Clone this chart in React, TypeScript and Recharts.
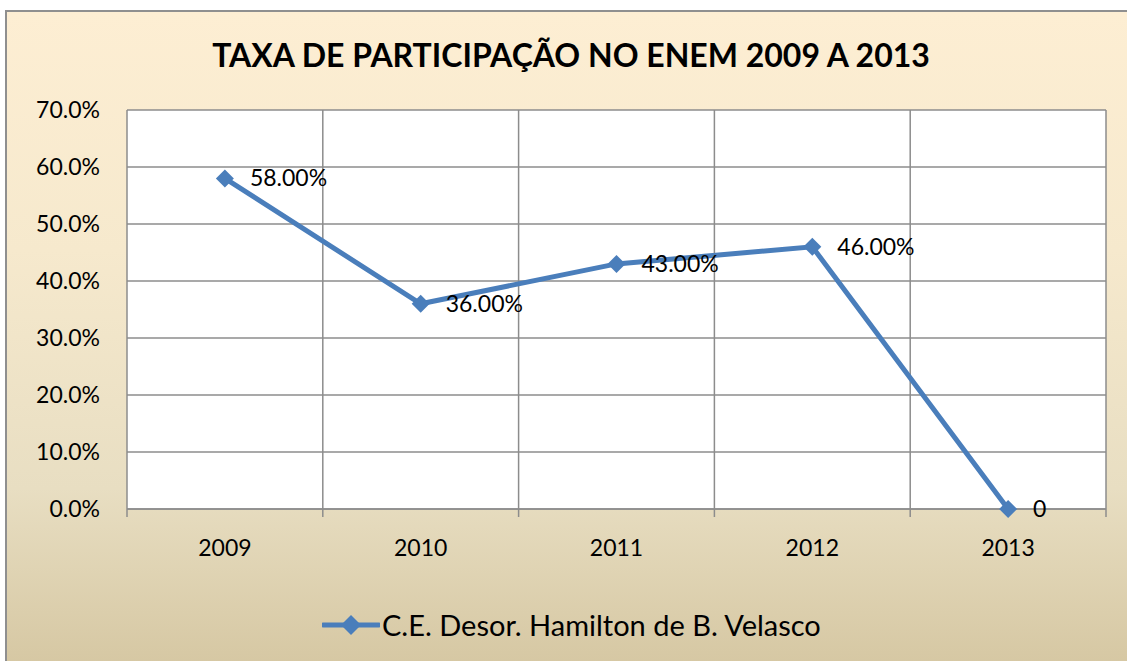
import React from 'react';
import { LineChart, Line, XAxis, YAxis, CartesianGrid, ReferenceLine, LabelList, Legend } from 'recharts';

const title = 'TAXA DE PARTICIPAÇÃO NO ENEM 2009 A 2013';
const seriesName = 'C.E. Desor. Hamilton de B. Velasco';
const years = ['2009', '2010', '2011', '2012', '2013'];
const rates = [0.58, 0.36, 0.43, 0.46, 0];
const yTicks = [0, 0.1, 0.2, 0.3, 0.4, 0.5, 0.6, 0.7];

const data = years.map((year, i) => ({ pos: i + 0.5, year, rate: rates[i] }));
const boundaries = years.map((_, i) => i + 1);
const xTicks = [0, ...years.flatMap((_, i) => [i + 0.5, i + 1])];

const FONT = 'Lato, "Open Sans", sans-serif';
const LINE_COLOR = '#4a7ebb';
const GRID = '#8c8c8c';

const Diamond = (props: any) => {
  const { cx, cy } = props;
  if (cx == null || cy == null) return null;
  const r = 9;
  return <path d={`M${cx},${cy - r}L${cx + r},${cy}L${cx},${cy + r}L${cx - r},${cy}Z`} fill={LINE_COLOR} stroke="none" />;
};

const XTick = (props: any) => {
  const { x, y, payload } = props;
  const v = payload.value;
  if (Number.isInteger(v)) {
    return <line x1={x} y1={y} x2={x} y2={y + 8} stroke={GRID} strokeWidth={1.5} />;
  }
  const idx = Math.floor(v);
  return (
    <text x={x} y={y + 41} textAnchor="middle" dominantBaseline="middle" fontFamily={FONT} fontSize={23} fill="#000">
      {years[idx]}
    </text>
  );
};

const renderLabel = (props: any) => {
  const { x, y, value } = props;
  const txt = value === 0 ? '0' : `${(value * 100).toFixed(2)}%`;
  return (
    <text x={x + 25} y={y + 2} dominantBaseline="middle" fontFamily={FONT} fontSize={23} fill="#000">
      {txt}
    </text>
  );
};

const LegendContent = () => (
  <div style={{ display: 'flex', alignItems: 'center', fontFamily: FONT, fontSize: 29, color: '#000', whiteSpace: 'nowrap' }}>
    <svg width={58} height={24} style={{ display: 'block' }}>
      <line x1={1} y1={12} x2={57} y2={12} stroke={LINE_COLOR} strokeWidth={5} strokeLinecap="round" />
      <path d="M29,2L39,12L29,22L19,12Z" fill={LINE_COLOR} />
    </svg>
    <span style={{ marginLeft: 2 }}>{seriesName}</span>
  </div>
);

export default function App() {
  return (
    <div style={{ position: 'relative', width: 1127, height: 661, overflow: 'hidden' }}>
      <style>{'body{margin:0}'}</style>
      <div
        style={{
          position: 'absolute',
          left: 5,
          top: 10,
          width: 1140,
          height: 680,
          borderTop: '2px solid #8f8f8f',
          borderLeft: '2px solid #8f8f8f',
          background: 'linear-gradient(to bottom, #fdeed3 0%, #f6e9cd 35%, #e8dec2 70%, #d3c49e 100%)',
        }}
      />
      <div
        style={{
          position: 'absolute',
          left: 0,
          top: 35,
          width: 1142,
          textAlign: 'center',
          fontFamily: FONT,
          fontWeight: 700,
          fontSize: 32,
          color: '#000',
          whiteSpace: 'nowrap',
        }}
      >
        {title}
      </div>
      <div style={{ position: 'absolute', left: 0, top: 0 }}>
        <LineChart width={1127} height={661} data={data} margin={{ top: 110, right: 21, left: 0, bottom: 0 }}>
          <CartesianGrid vertical={false} stroke={GRID} strokeWidth={1.5} fill="#ffffff" fillOpacity={1} />
          <XAxis
            dataKey="pos"
            type="number"
            domain={[0, years.length]}
            ticks={xTicks}
            interval={0}
            height={152}
            tickSize={0}
            tickMargin={0}
            tickLine={false}
            axisLine={{ stroke: GRID, strokeWidth: 1.5 }}
            tick={<XTick />}
          />
          <YAxis
            width={127}
            domain={[0, 0.7]}
            ticks={yTicks}
            interval={0}
            tickSize={0}
            tickMargin={27}
            tickLine={false}
            axisLine={{ stroke: GRID, strokeWidth: 1.5 }}
            tickFormatter={(v: number) => `${(v * 100).toFixed(1)}%`}
            tick={{ fontFamily: FONT, fontSize: 23, fill: '#000' }}
          />
          {boundaries.map((b) => (
            <ReferenceLine key={b} x={b} stroke={GRID} strokeWidth={1.5} />
          ))}
          <Legend
            verticalAlign="middle"
            align="center"
            layout="horizontal"
            content={<LegendContent />}
            wrapperStyle={{ position: 'absolute', left: 322, top: 607, width: 700 }}
          />
          <Line
            dataKey="rate"
            name={seriesName}
            stroke={LINE_COLOR}
            strokeWidth={5}
            dot={<Diamond />}
            activeDot={false}
            isAnimationActive={false}
          >
            <LabelList dataKey="rate" content={renderLabel} />
          </Line>
        </LineChart>
      </div>
    </div>
  );
}
